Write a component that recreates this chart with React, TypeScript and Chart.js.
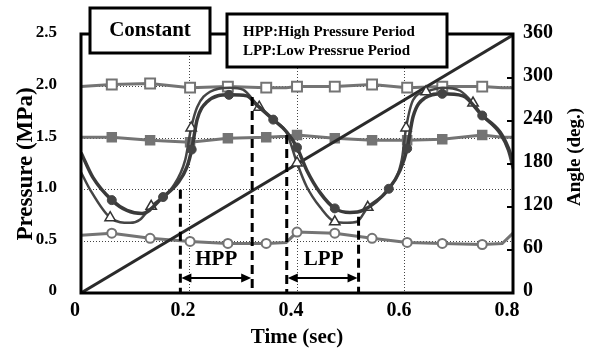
import React, { useEffect, useRef } from 'react';
import { Chart, registerables } from 'chart.js';

Chart.register(...registerables);

const FONT = '"Liberation Serif", "Times New Roman", serif';
const GRAY = '#747474';

// ---- data ----
const xTickValues = [0, 0.2, 0.4, 0.6, 0.8];
const pressureTicks = [0, 0.5, 1.0, 1.5, 2.0, 2.5];
const angleTicks = [0, 60, 120, 180, 240, 300, 360];

const flatTimes = [0, 0.057, 0.128, 0.202, 0.272, 0.343, 0.38, 0.4, 0.47, 0.539, 0.604, 0.669, 0.743, 0.78, 0.8];
const flatMarkTimes = [0.057, 0.128, 0.202, 0.272, 0.343, 0.4, 0.47, 0.539, 0.604, 0.669, 0.743];
const openSquareValues = [2.0, 2.02, 2.03, 1.99, 2.0, 1.99, 1.99, 2.0, 2.0, 2.02, 1.99, 2.0, 2.0, 1.99, 1.99];
const filledSquareValues = [1.51, 1.51, 1.48, 1.46, 1.5, 1.51, 1.52, 1.53, 1.5, 1.48, 1.48, 1.49, 1.53, 1.51, 1.51];
const openCircleValues = [0.56, 0.58, 0.53, 0.5, 0.48, 0.48, 0.49, 0.59, 0.58, 0.53, 0.49, 0.48, 0.47, 0.48, 0.58];

const curveATimes = [0, 0.022, 0.057, 0.085, 0.113, 0.152, 0.18, 0.196, 0.205, 0.215, 0.233, 0.274, 0.307, 0.326, 0.356, 0.381, 0.4, 0.418, 0.443, 0.47, 0.498, 0.522, 0.57, 0.591, 0.604, 0.615, 0.637, 0.669, 0.707, 0.743, 0.776, 0.791, 0.8];
const curveAValues = [1.36, 1.12, 0.9, 0.8, 0.77, 0.93, 1.07, 1.22, 1.39, 1.68, 1.85, 1.92, 1.91, 1.82, 1.68, 1.56, 1.41, 1.19, 0.97, 0.82, 0.78, 0.8, 1.01, 1.19, 1.4, 1.71, 1.89, 1.93, 1.91, 1.72, 1.56, 1.41, 1.27];
const curveAMarkTimes = [0.057, 0.152, 0.205, 0.274, 0.356, 0.4, 0.47, 0.57, 0.604, 0.669, 0.743];

const curveBTimes = [0, 0.017, 0.054, 0.091, 0.109, 0.13, 0.17, 0.193, 0.204, 0.215, 0.239, 0.276, 0.3, 0.33, 0.356, 0.381, 0.4, 0.418, 0.443, 0.47, 0.493, 0.511, 0.531, 0.572, 0.594, 0.602, 0.615, 0.639, 0.67, 0.702, 0.726, 0.743, 0.776, 0.791, 0.8];
const curveBValues = [1.17, 1.0, 0.73, 0.68, 0.71, 0.84, 1.03, 1.29, 1.6, 1.8, 1.95, 1.99, 1.97, 1.8, 1.68, 1.55, 1.26, 1.03, 0.83, 0.69, 0.68, 0.69, 0.83, 1.02, 1.29, 1.6, 1.87, 1.95, 1.99, 1.96, 1.84, 1.72, 1.54, 1.38, 1.2];
const curveBMarkTimes = [0.054, 0.13, 0.204, 0.33, 0.4, 0.47, 0.531, 0.602, 0.639, 0.726];

const angleTimes = [0, 0.8];
const angleValues = [0, 360];

const periodLineTimes = [0.184, 0.317, 0.381, 0.514];
const periodLineTops = [1.0, 1.9, 1.53, 0.74];
const periodLabels = ['HPP', 'LPP'];
const arrowLevel = 0.145;
const periodLabelLevel = 0.32;

const boxTitle = 'Constant';
const noteLines = ['HPP:High Pressure Period', 'LPP:Low Pressrue Period'];

const toPoints = (ts: number[], vs: number[]) => ts.map((t, i) => ({ x: t, y: vs[i] }));
const markRadii = (ts: number[], marks: number[], r: number) =>
  ts.map((t) => (marks.some((m) => Math.abs(m - t) < 1e-9) ? r : 0));

const near = (a: number, b: number) => Math.abs(a - b) < 1e-9;

const overlayPlugin = {
  id: 'overlay',
  afterDatasetsDraw(chart: any) {
    const { ctx, chartArea, scales } = chart;
    const xs = scales.x;
    const ys = scales.y;
    const y1 = scales.y1;
    ctx.save();

    // inward ticks on right axis
    ctx.strokeStyle = '#000';
    ctx.lineWidth = 2;
    angleTicks.forEach((a) => {
      if (a === 0 || a === 360) return;
      const py = Math.round(y1.getPixelForValue(a));
      ctx.beginPath();
      ctx.moveTo(chartArea.right, py);
      ctx.lineTo(chartArea.right - 6, py);
      ctx.stroke();
    });

    // frame
    ctx.lineWidth = 3;
    ctx.strokeStyle = '#000';
    ctx.strokeRect(chartArea.left, chartArea.top - 1, chartArea.right - chartArea.left, chartArea.bottom - chartArea.top + 1);

    // arrows
    const ay = ys.getPixelForValue(arrowLevel);
    const drawArrow = (x1: number, x2: number) => {
      ctx.lineWidth = 2;
      ctx.strokeStyle = '#000';
      ctx.fillStyle = '#000';
      ctx.beginPath();
      ctx.moveTo(x1 + 6, ay);
      ctx.lineTo(x2 - 6, ay);
      ctx.stroke();
      ctx.beginPath();
      ctx.moveTo(x1 + 1, ay);
      ctx.lineTo(x1 + 11, ay - 4.5);
      ctx.lineTo(x1 + 11, ay + 4.5);
      ctx.closePath();
      ctx.fill();
      ctx.beginPath();
      ctx.moveTo(x2 - 1, ay);
      ctx.lineTo(x2 - 11, ay - 4.5);
      ctx.lineTo(x2 - 11, ay + 4.5);
      ctx.closePath();
      ctx.fill();
    };
    const px = periodLineTimes.map((t) => xs.getPixelForValue(t));
    drawArrow(px[0], px[1]);
    drawArrow(px[2], px[3]);

    ctx.font = `bold 21px ${FONT}`;
    ctx.textAlign = 'center';
    ctx.textBaseline = 'middle';
    ctx.fillStyle = '#000';
    const ly = ys.getPixelForValue(periodLabelLevel);
    ctx.fillText(periodLabels[0], (px[0] + px[1]) / 2, ly);
    ctx.fillText(periodLabels[1], (px[2] + px[3]) / 2 + 1, ly);

    // Constant box
    ctx.fillStyle = '#fff';
    ctx.fillRect(90, 8, 120, 45);
    ctx.lineWidth = 3;
    ctx.strokeStyle = '#000';
    ctx.strokeRect(90, 8, 120, 45);
    ctx.fillStyle = '#000';
    ctx.font = `bold 21px ${FONT}`;
    ctx.fillText(boxTitle, 150, 31);

    // note box
    ctx.fillStyle = '#fff';
    ctx.fillRect(227, 14, 220, 53);
    ctx.strokeRect(227, 14, 220, 53);
    ctx.fillStyle = '#000';
    ctx.font = `bold 15px ${FONT}`;
    ctx.textAlign = 'left';
    ctx.fillText(noteLines[0], 243, 32);
    ctx.fillText(noteLines[1], 243, 51);

    // right axis title
    ctx.save();
    ctx.translate(575, 157);
    ctx.rotate(-Math.PI / 2);
    ctx.textAlign = 'center';
    ctx.textBaseline = 'middle';
    ctx.font = `bold 19px ${FONT}`;
    ctx.fillText('Angle (deg.)', 0, 0);
    ctx.restore();

    ctx.restore();
  },
};

export default function App() {
  const ref = useRef<HTMLCanvasElement | null>(null);

  useEffect(() => {
    if (!ref.current) return;
    const grayLine = {
      yAxisID: 'y',
      borderColor: GRAY,
      borderWidth: 3,
      pointBorderColor: GRAY,
      pointBorderWidth: 2,
      tension: 0,
    };
    const periodDatasets = periodLineTimes.map((t, i) => ({
      label: 'period' + i,
      data: [
        { x: t, y: periodLineTops[i] },
        { x: t, y: 0 },
      ],
      yAxisID: 'y',
      borderColor: '#000',
      borderWidth: 3,
      borderDash: [9, 5],
      pointRadius: 0,
      order: 1,
    }));

    const chart = new Chart(ref.current, {
      type: 'line',
      data: {
        datasets: [
          {
            ...grayLine,
            label: 'open squares',
            data: toPoints(flatTimes, openSquareValues),
            pointStyle: 'rect',
            pointRadius: markRadii(flatTimes, flatMarkTimes, 7),
            pointBackgroundColor: '#fff',
            order: 6,
          },
          {
            ...grayLine,
            label: 'filled squares',
            data: toPoints(flatTimes, filledSquareValues),
            pointStyle: 'rect',
            pointRadius: markRadii(flatTimes, flatMarkTimes, 6),
            pointBackgroundColor: GRAY,
            order: 6,
          },
          {
            ...grayLine,
            label: 'open circles',
            data: toPoints(flatTimes, openCircleValues),
            pointStyle: 'circle',
            pointRadius: markRadii(flatTimes, flatMarkTimes, 4.5),
            pointBackgroundColor: '#fff',
            order: 6,
          },
          {
            label: 'angle',
            data: toPoints(angleTimes, angleValues),
            yAxisID: 'y1',
            borderColor: '#2a2a2a',
            borderWidth: 3,
            pointRadius: 0,
            order: 4,
          },
          {
            label: 'curve B',
            data: toPoints(curveBTimes, curveBValues),
            yAxisID: 'y',
            borderColor: '#454545',
            borderWidth: 2.5,
            cubicInterpolationMode: 'monotone',
            pointStyle: 'triangle',
            pointRadius: markRadii(curveBTimes, curveBMarkTimes, 6),
            pointBackgroundColor: '#fff',
            pointBorderColor: '#333',
            pointBorderWidth: 1.5,
            order: 3,
          },
          {
            label: 'curve A',
            data: toPoints(curveATimes, curveAValues),
            yAxisID: 'y',
            borderColor: '#3a3a3a',
            borderWidth: 3.5,
            cubicInterpolationMode: 'monotone',
            pointStyle: 'circle',
            pointRadius: markRadii(curveATimes, curveAMarkTimes, 4.5),
            pointBackgroundColor: '#444',
            pointBorderColor: '#444',
            pointBorderWidth: 1,
            order: 2,
          },
          ...periodDatasets,
        ] as any,
      },
      options: {
        responsive: false,
        devicePixelRatio: 1,
        animation: false,
        layout: { padding: { top: 35, left: 0, right: 0, bottom: 0 } },
        plugins: { legend: { display: false }, tooltip: { enabled: false } },
        scales: {
          x: {
            type: 'linear',
            min: 0,
            max: 0.8,
            afterFit: (s: any) => {
              s.height = 55;
            },
            afterBuildTicks: (s: any) => {
              s.ticks = xTickValues.map((v) => ({ value: v }));
            },
            ticks: {
              color: '#000',
              font: { family: FONT, size: 20, weight: 'bold' },
              padding: 6,
              labelOffset: -6,
              maxRotation: 0,
              callback: (v: any) => (v === 0 ? '0' : Number(v).toFixed(1)),
            },
            grid: {
              drawTicks: false,
              lineWidth: 1,
              color: (c: any) =>
                c.tick && (near(c.tick.value, 0) || near(c.tick.value, 0.8)) ? 'rgba(0,0,0,0)' : '#444',
            },
            border: { display: false, dash: [1, 2] },
            title: {
              display: true,
              text: 'Time (sec)',
              color: '#000',
              font: { family: FONT, size: 21, weight: 'bold', lineHeight: 1 },
              padding: { top: 0, bottom: 0 },
            },
          },
          y: {
            type: 'linear',
            position: 'left',
            min: 0,
            max: 2.5,
            afterFit: (s: any) => {
              s.width = 81;
            },
            afterBuildTicks: (s: any) => {
              s.ticks = pressureTicks.map((v) => ({ value: v }));
            },
            ticks: {
              color: '#000',
              font: { family: FONT, size: 17, weight: 'bold' },
              padding: 24,
              labelOffset: -2,
              callback: (v: any) => (v === 0 ? '0' : Number(v).toFixed(1)),
            },
            grid: {
              drawTicks: false,
              lineWidth: 1,
              color: (c: any) =>
                c.tick && (near(c.tick.value, 0) || near(c.tick.value, 2.5)) ? 'rgba(0,0,0,0)' : '#444',
            },
            border: { display: false, dash: [1, 2] },
            title: {
              display: true,
              text: 'Pressure (MPa)',
              color: '#000',
              font: { family: FONT, size: 23, weight: 'bold', lineHeight: 1.2 },
              padding: { top: 12, bottom: 0 },
            },
          },
          y1: {
            type: 'linear',
            position: 'right',
            min: 0,
            max: 360,
            afterFit: (s: any) => {
              s.width = 81;
            },
            afterBuildTicks: (s: any) => {
              s.ticks = angleTicks.map((v) => ({ value: v }));
            },
            ticks: {
              color: '#000',
              font: { family: FONT, size: 20, weight: 'bold' },
              padding: 10,
              labelOffset: -2,
              callback: (v: any) => String(v),
            },
            grid: { drawOnChartArea: false, drawTicks: false },
            border: { display: false },
          },
        },
      } as any,
      plugins: [overlayPlugin],
    });
    return () => chart.destroy();
  }, []);

  return (
    <div style={{ position: 'absolute', left: 0, top: 0, width: 594, height: 348, background: '#fff' }}>
      <canvas ref={ref} width={594} height={348} style={{ display: 'block', width: 594, height: 348 }} />
    </div>
  );
}
